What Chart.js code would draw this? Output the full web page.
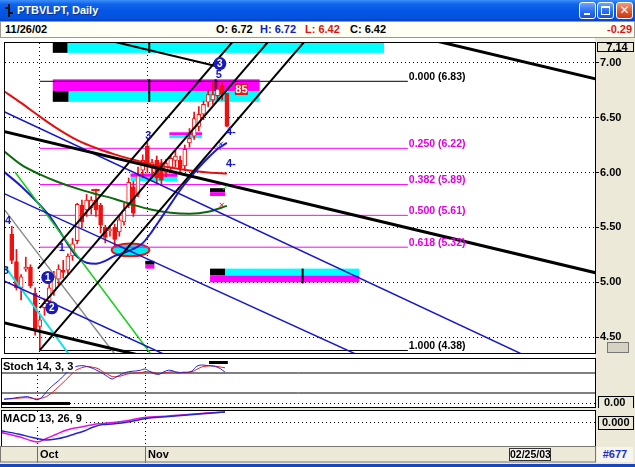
<!DOCTYPE html>
<html>
<head>
<meta charset="utf-8">
<title>PTBVLPT, Daily</title>
<script src="https://cdn.jsdelivr.net/npm/chart.js@4.4.0/dist/chart.umd.min.js"></script>
<style>
  html, body { margin: 0; padding: 0; background: #ece9d8; }
  #win { position: relative; width: 635px; height: 467px; overflow: hidden; background: #ece9d8;
         font-family: "Liberation Sans", Arial, sans-serif; }
  #titlebar { position: absolute; left: 0; top: 0; width: 635px; height: 21px;
              background: linear-gradient(to bottom, #3d8ff9 0%, #0f63eb 20%, #0356e4 55%, #0452dd 85%, #0a40c2 100%); }
  #titlebar .ttl { position: absolute; left: 17px; top: 4px; color: #fff; font-weight: bold; font-size: 11px;
                   text-shadow: 1px 1px 0 #0b2f8c; white-space: nowrap; }
  #icon { position: absolute; left: 5px; top: 4px; width: 8px; height: 13px; }
  #icon i { position: absolute; background: #111; }
  .btn { position: absolute; top: 2px; width: 17px; height: 17px; box-sizing: border-box; border: 1px solid #fff;
         border-radius: 3px; background: linear-gradient(#6aa6ff, #2c6cf2 55%, #1b52d6); }
  #bmin { left: 579px; } #bmax { left: 597px; }
  #bcls { left: 616px; background: linear-gradient(#f29a7c, #e2572f 55%, #c93a19); }
  #bmin i { position: absolute; left: 4px; top: 10px; width: 6px; height: 2px; background: #fff; }
  #bmax i { position: absolute; left: 3px; top: 3px; width: 9px; height: 9px; box-sizing: border-box;
            border: 1px solid #fff; border-top-width: 2px; }
  #bcls b { position: absolute; left: 0; top: 0; width: 15px; line-height: 15px; text-align: center; color: #fff;
            font: bold 12px "DejaVu Sans", sans-serif; }
  #info { position: absolute; left: 0; top: 21px; width: 633px; height: 15px; background: #fffff4;
          border: 1px solid #9c9a90; }
  #info span { position: absolute; top: 1px; font-weight: bold; font-size: 11px; white-space: nowrap; }
  canvas { position: absolute; left: 0; }
  #cursorDate { position: absolute; left: 509px; top: 448px; width: 42px; height: 13px; box-sizing: border-box;
                border: 1px solid #333; background: #f4f2e8; font-size: 10.5px; font-weight: bold;
                line-height: 11px; text-align: center; }
  #barNo { position: absolute; left: 597px; top: 447px; width: 36px; height: 15px; background: #f6f5ee;
           color: #1d2fc4; font-size: 11px; font-weight: bold; line-height: 15px; text-align: center; }
  #frameBottom { position: absolute; left: 0; top: 464px; width: 635px; height: 3px; background: #1646c8; }
</style>
</head>
<body>
<div id="win">
  <div id="titlebar">
    <div id="icon"><i style="left:3px;top:0;width:2px;height:13px"></i><i style="left:0;top:3px;width:3px;height:2px"></i><i style="left:5px;top:8px;width:3px;height:2px"></i></div>
    <div class="ttl">PTBVLPT, Daily</div>
    <div class="btn" id="bmin"><i></i></div>
    <div class="btn" id="bmax"><i></i></div>
    <div class="btn" id="bcls"><b>✕</b></div>
  </div>
  <div id="info">
    <span id="iDate" style="left:4px;color:#000"></span>
    <span id="iO" style="left:215px;color:#000"></span>
    <span id="iH" style="left:259px;color:#1020c8"></span>
    <span id="iL" style="left:304px;color:#e01010"></span>
    <span id="iC" style="left:349px;color:#000"></span>
    <span id="iChg" style="left:606px;color:#e01010"></span>
  </div>
  <canvas id="cMain" width="635" height="320" style="top:38px;background:#fff"></canvas>
  <canvas id="cStoch" width="635" height="50" style="top:358px;background:#fff"></canvas>
  <canvas id="cMacd" width="635" height="53" style="top:410px;background:#fff"></canvas>
  <div id="cursorDate"></div>
  <div id="barNo"></div>
  <div id="frameBottom"></div>
</div>
<script>
// ---------------- time axis (bar index 0 = 1 Oct 2002) ----------------
const firstBar = -6;
const monthTicks = [0, 23];
const monthLabels = ['Oct', 'Nov'];
const xRange = [-7.447, 118.72];
const lastDateLabel = '11/26/02';
const cursorDateLabel = '02/25/03';
const barCountLabel = '#677';

// ---------------- price axis ----------------
const priceRange = [4.357, 7.1786];
const priceTicks = [4.5, 5.0, 5.5, 6.0, 6.5, 7.0];
const priceTopLabel = 7.14;

// ---------------- daily OHLC ----------------
const opens  = [5.44, 5.19, 4.95, 5.12, 5.14, 4.90, 4.60, 4.77, 4.83, 4.92, 5.03, 5.11, 5.11, 5.24, 5.38, 5.70,
                5.66, 5.68, 5.75, 5.70, 5.50, 5.47, 5.50, 5.46, 5.55, 5.70, 5.87, 5.80, 6.02, 6.24, 6.04, 6.11,
                6.09, 6.00, 6.04, 6.11, 6.11, 6.06, 6.27, 6.33, 6.42, 6.53, 6.64, 6.66, 6.70, 6.79, 6.72];
const highs  = [5.51, 5.30, 5.07, 5.23, 5.16, 4.95, 4.70, 4.85, 5.00, 5.10, 5.16, 5.20, 5.26, 5.40, 5.72, 5.75,
                5.80, 5.78, 5.85, 5.72, 5.52, 5.52, 5.53, 5.60, 5.72, 5.95, 5.92, 6.05, 6.16, 6.27, 6.12, 6.15,
                6.12, 6.12, 6.16, 6.20, 6.15, 6.25, 6.40, 6.55, 6.60, 6.65, 6.75, 6.83, 6.82, 6.83, 6.72];
const lows   = [5.17, 4.93, 4.84, 5.10, 4.95, 4.52, 4.38, 4.70, 4.80, 4.88, 4.98, 5.04, 5.08, 5.20, 5.35, 5.50,
                5.60, 5.62, 5.60, 5.45, 5.36, 5.42, 5.33, 5.42, 5.52, 5.68, 5.60, 5.78, 5.95, 6.00, 5.95, 5.90,
                5.88, 5.96, 6.00, 6.05, 6.00, 6.02, 6.23, 6.30, 6.38, 6.48, 6.60, 6.62, 6.65, 6.66, 6.42];
const closes = [5.20, 4.95, 5.05, 5.14, 4.97, 4.56, 4.66, 4.81, 4.95, 5.05, 5.12, 5.09, 5.24, 5.35, 5.71, 5.55,
                5.75, 5.75, 5.66, 5.52, 5.41, 5.48, 5.39, 5.57, 5.66, 5.91, 5.63, 5.97, 6.11, 6.09, 6.09, 5.95,
                5.93, 6.08, 6.13, 6.15, 6.04, 6.21, 6.31, 6.49, 6.53, 6.62, 6.71, 6.71, 6.76, 6.71, 6.42];

// ---------------- Fibonacci retracement ----------------
const fibLevels = [0, 0.25, 0.382, 0.5, 0.618, 1];
const fibPrices = [6.83, 6.22, 5.89, 5.61, 5.32, 4.38];
const fibSpan = [0, 78.7];

// ---------------- moving averages / regression curve ----------------
const maIdx   = [-8, -4, 0, 4, 8, 12, 16, 20, 24, 28, 32, 36, 40];
const redMA   = [6.75, 6.634, 6.509, 6.393, 6.295, 6.223, 6.165, 6.116, 6.071, 6.045, 6.018, 6.0, 5.991];
const greenMA = [6.205, 6.071, 5.982, 5.911, 5.853, 5.804, 5.759, 5.705, 5.661, 5.634, 5.625, 5.643, 5.696];
const curveIdx  = [-8, -4, 0, 2, 4, 6, 8, 10, 12, 14, 16, 18, 20, 22, 24, 26, 28, 30, 32, 34, 36, 38, 40];
const blueCurve = [6.018, 5.875, 5.705, 5.607, 5.482, 5.348, 5.232, 5.179, 5.170, 5.196, 5.241, 5.268, 5.304,
                   5.357, 5.464, 5.589, 5.714, 5.839, 5.946, 6.045, 6.134, 6.214, 6.27];

// ---------------- trend lines: [x1, price1, x2, price2] ----------------
const pitchforkLines = [[-0.4, 5.125, 42, 7.228], [0, 4.768, 50, 7.248], [0, 4.384, 58, 7.261]];
const channelLines   = [[10, 7.25, 38.5, 6.96], [80, 7.245, 119, 6.85], [-8, 6.376, 119, 5.086], [-8, 4.635, 22, 4.33]];
const blueLines      = [[-8, 6.561, 105, 4.309], [-8, 5.815, 70, 4.30], [-8, 5.02, 30, 4.279]];
const fanGreen = [-5.32, 6.005, 24.04, 4.33];
const fanGray  = [-8, 5.686, 16, 4.348];
const fanCyan  = [-7.45, 5.143, 6.17, 4.348];
const topMarkLine = [11.0, 5.84, 12.8, 5.84];

// ---------------- highlight zones: [x1, x2, priceTop, priceBottom, colour] ----------------
const zones = [
  [2.77, 5.96, 7.179, 7.089, '#000000'], [5.96, 73.6, 7.179, 7.089, '#00ffff'],
  [2.77, 47.0, 6.848, 6.741, '#ff00ff'], [2.77, 6.17, 6.741, 6.643, '#000000'], [6.17, 47.0, 6.741, 6.643, '#00ffff'],
  [27.7, 34.7, 6.366, 6.339, '#ff00ff'], [27.7, 34.7, 6.339, 6.313, '#00ffff'],
  [19.4, 29.4, 5.991, 5.960, '#ff00ff'], [19.4, 29.4, 5.960, 5.920, '#00ffff'],
  [36.4, 39.6, 5.857, 5.821, '#000000'], [36.4, 39.6, 5.821, 5.786, '#ff00ff'],
  [22.55, 24.5, 5.196, 5.161, '#000000'], [22.55, 24.5, 5.161, 5.125, '#ff00ff'],
  [36.4, 39.6, 5.125, 5.0625, '#000000'], [39.6, 68.3, 5.125, 5.0625, '#00ffff'], [36.4, 68.3, 5.0625, 5.0, '#ff00ff']
];
const zoneTicks = [[23.4, 7.179, 7.089], [23.4, 6.848, 6.643], [37.6, 6.848, 6.741], [56.2, 5.125, 4.99]];
const zoneEllipse = [19.4, 5.295, 4.04, 0.058];
const targetTag = [41.7, 44.5, 6.81, 6.705, '85'];

// ---------------- wave labels ----------------
const waveCircles = [[1.7, 5.045, '1'], [2.55, 4.768, '2'], [38.5, 6.991, '3']];
const waveTexts = [['4', -6.8, 5.563], ['3', -7.3, 5.107], ['1', 4.7, 5.313], ['3', 23.2, 6.33],
                   ['5', 38.3, 6.884], ['4-', 40.85, 6.366], ['4-', 40.85, 6.08]];
const blueCrosses = [[38.7, 6.26], [38.3, 6.22]];
const redCrosses = [[38.9, 5.705]];
const greenChecks = [[39.6, 5.85]];

// ---------------- Stochastic 14,3,3 ----------------
const stochStart = -7;
const stochK = [10, 11, 12, 14, 15, 16, 12, 8, 14, 28, 40, 50, 60, 72, 84, 90, 93, 93, 90, 86, 80, 74, 66, 60,
                66, 72, 77, 79, 80, 82, 85, 79, 73, 72, 78, 82, 80, 75, 77, 77, 80, 92, 95, 94, 93, 91, 86, 77];
const stochD = [9, 10, 11, 12, 13, 13, 12, 10, 12, 16, 24, 34, 45, 56, 68, 80, 86, 90, 91, 89, 86, 78, 72, 66,
                66, 68, 72, 74, 75, 76, 78, 78, 76, 73, 75, 77, 78, 77, 76, 76, 78, 84, 90, 92, 93, 92, 90, 88];
const stochLevels = [75, 25];
const stochRange = [-10, 110];
const stochMarks = [[-7.45, 7.02, 2.5, -5], [36.6, 40.6, 105, 97.5]];

// ---------------- MACD 13,26,9 ----------------
const macdIdx    = [-8, -4, -1, 0, 2, 4, 6, 8, 10, 12, 14, 16, 18, 20, 22, 24, 28, 32, 36, 40];
const macdLine   = [-0.18, -0.27, -0.36, -0.38, -0.31, -0.23, -0.15, -0.10, -0.07, -0.03, -0.01, 0.01, 0.03,
                    0.06, 0.10, 0.12, 0.14, 0.17, 0.20, 0.22];
const signalLine = [-0.15, -0.22, -0.29, -0.31, -0.34, -0.32, -0.28, -0.22, -0.16, -0.08, -0.03, -0.02, 0.0,
                    0.03, 0.07, 0.10, 0.13, 0.16, 0.19, 0.22];
const macdRange = [-0.46, 0.24];

// =====================================================================
const FONT = "'Liberation Sans', Arial, sans-serif";
Chart.defaults.font.family = FONT;
Chart.defaults.font.size = 11;
Chart.defaults.font.weight = 'bold';
Chart.defaults.color = '#000';

const barX = opens.map((_, i) => firstBar + i);
const last = opens.length - 1;

// header texts come from the last bar
document.getElementById('iDate').textContent = lastDateLabel;
document.getElementById('iO').textContent = 'O: ' + opens[last].toFixed(2);
document.getElementById('iH').textContent = 'H: ' + highs[last].toFixed(2);
document.getElementById('iL').textContent = 'L: ' + lows[last].toFixed(2);
document.getElementById('iC').textContent = 'C: ' + closes[last].toFixed(2);
document.getElementById('iChg').textContent = (closes[last] - closes[last - 1]).toFixed(2);
document.getElementById('cursorDate').textContent = cursorDateLabel;
document.getElementById('barNo').textContent = barCountLabel;

const seg = (s) => [{x: s[0], y: s[1]}, {x: s[2], y: s[3]}];
const lineDs = (data, color, width, order, extra) => Object.assign({
  type: 'line', data, borderColor: color, borderWidth: width, pointRadius: 0, fill: false,
  tension: 0, order, clip: 0, borderCapStyle: 'butt'
}, extra || {});
const curve = (xs, ys) => xs.map((x, i) => ({x, y: ys[i]}));

const sx = (c, v) => c.scales.x.getPixelForValue(v);
const sy = (c, v) => c.scales.y.getPixelForValue(v);
function clipToArea(c) {
  const a = c.chartArea;
  c.ctx.beginPath();
  c.ctx.rect(a.left, a.top, a.right - a.left, a.bottom - a.top);
  c.ctx.clip();
}
// keep the plot area exactly where the layout padding puts it
const noLabelPadding = s => { s.paddingTop = 0; s.paddingBottom = 0; s.paddingLeft = 0; s.paddingRight = 0; };

// panel chrome: grey axis column, frame around the plot area, optional panel caption
const panelFrame = {
  id: 'panelFrame',
  beforeDraw(c, args, o) {
    const {ctx, chartArea: a, width, height} = c;
    ctx.save();
    ctx.fillStyle = '#ece9d8';
    ctx.fillRect(a.right, 0, width - a.right, height);
    if (o.axisBar) ctx.fillRect(0, a.bottom, width, height - a.bottom);
    ctx.restore();
  },
  afterDraw(c, args, o) {
    const {ctx, chartArea: a, width, height} = c;
    ctx.save();
    ctx.strokeStyle = '#000';
    ctx.lineWidth = 1;
    ctx.strokeRect(a.left - 0.5, a.top - 0.5, a.right - a.left + 1, a.bottom - a.top + 1);
    if (o.axisBar) {
      ctx.strokeStyle = '#7a786e';
      ctx.strokeRect(0.5, a.bottom + 0.5, a.right, height - a.bottom - 1.5);
    }
    if (o.caption) {
      ctx.font = 'bold 11px ' + FONT;
      const w = ctx.measureText(o.caption).width;
      ctx.fillStyle = '#fff';
      ctx.fillRect(a.left, a.top + 1, w + 3, 12);
      ctx.fillStyle = '#000';
      ctx.textBaseline = 'middle';
      ctx.fillText(o.caption, a.left + 1, a.top + 8);
    }
    if (o.labelBoxes) {
      ctx.strokeStyle = '#000';
      c.scales.y.ticks.forEach(t => {
        const y = Math.round(sy(c, t.value));
        ctx.strokeRect(a.right + 3.5, y - 6.5, width - a.right - 5, 13);
      });
    }
    ctx.restore();
  }
};

// drawing objects on the price panel
const priceDrawings = {
  id: 'priceDrawings',
  beforeDatasetsDraw(c) {
    const ctx = c.ctx;
    ctx.save();
    clipToArea(c);
    zones.forEach(([x1, x2, p1, p2, col]) => {
      const l = sx(c, x1), r = sx(c, x2), t = sy(c, p1), b = sy(c, p2);
      ctx.fillStyle = col;
      ctx.fillRect(l, t, r - l, b - t);
    });
    ctx.strokeStyle = '#000';
    ctx.lineWidth = 2;
    zoneTicks.forEach(([x, p1, p2]) => {
      ctx.beginPath();
      ctx.moveTo(sx(c, x), sy(c, p1));
      ctx.lineTo(sx(c, x), sy(c, p2));
      ctx.stroke();
    });
    const [ex, ey, erx, ery] = zoneEllipse;
    const cx = sx(c, ex), cy = sy(c, ey);
    const rx = sx(c, ex + erx) - cx, ry = sy(c, ey - ery) - cy;
    ctx.beginPath();
    ctx.ellipse(cx, cy, rx, ry, 0, 0, Math.PI * 2);
    ctx.fillStyle = '#00e8f0';
    ctx.fill();
    ctx.strokeStyle = '#e01818';
    ctx.lineWidth = 2;
    ctx.stroke();
    ctx.restore();
  },
  afterDatasetsDraw(c) {
    const {ctx, chartArea: a, width} = c;
    ctx.save();
    // Fibonacci captions
    ctx.font = 'bold 10.5px ' + FONT;
    ctx.textBaseline = 'bottom';
    fibLevels.forEach((lv, i) => {
      ctx.fillStyle = (lv === 0 || lv === 1) ? '#000' : '#e000e0';
      ctx.fillText(lv.toFixed(3) + ' (' + fibPrices[i].toFixed(2) + ')', sx(c, fibSpan[1]) + 1, sy(c, fibPrices[i]) + 1);
    });
    ctx.save();
    clipToArea(c);
    // price target tag
    const [tx1, tx2, tp1, tp2, ttxt] = targetTag;
    ctx.fillStyle = '#e81818';
    ctx.fillRect(sx(c, tx1), sy(c, tp1), sx(c, tx2) - sx(c, tx1), sy(c, tp2) - sy(c, tp1));
    ctx.fillStyle = '#fff';
    ctx.textAlign = 'center';
    ctx.textBaseline = 'middle';
    ctx.font = 'bold 11px ' + FONT;
    ctx.fillText(ttxt, (sx(c, tx1) + sx(c, tx2)) / 2, (sy(c, tp1) + sy(c, tp2)) / 2 + 0.5);
    // wave count labels
    ctx.fillStyle = '#1414c8';
    waveTexts.forEach(([t, x, p]) => ctx.fillText(t, sx(c, x), sy(c, p)));
    waveCircles.forEach(([x, p, t]) => {
      ctx.beginPath();
      ctx.arc(sx(c, x), sy(c, p), 6.5, 0, Math.PI * 2);
      ctx.fillStyle = '#1a1ab8';
      ctx.fill();
      ctx.fillStyle = '#fff';
      ctx.font = 'bold 10px ' + FONT;
      ctx.fillText(t, sx(c, x), sy(c, p) + 0.5);
    });
    ctx.fillStyle = '#18b018';
    ctx.font = '9px "DejaVu Sans", sans-serif';
    greenChecks.forEach(([x, p]) => ctx.fillText('✓', sx(c, x), sy(c, p)));
    ctx.restore();
    // boxed scale top value
    const yTop = sy(c, priceTopLabel);
    ctx.fillStyle = '#ece9d8';
    ctx.fillRect(a.right + 1, a.top - 1, width - a.right - 2, yTop - a.top + 6);
    ctx.strokeStyle = '#000';
    ctx.lineWidth = 1;
    ctx.strokeRect(a.right + 2.5, a.top - 0.5, width - a.right - 4, Math.round(yTop - a.top + 5));
    ctx.fillStyle = '#000';
    ctx.font = 'bold 11px ' + FONT;
    ctx.textAlign = 'center';
    ctx.textBaseline = 'middle';
    ctx.fillText(priceTopLabel.toFixed(2), (a.right + width) / 2 + 2, yTop + 0.5);
    // small tool icon in the corner of the scale
    ctx.fillStyle = '#d6d2c2';
    ctx.fillRect(a.right + 12, a.bottom - 11, 22, 11);
    ctx.strokeStyle = '#777';
    ctx.strokeRect(a.right + 12.5, a.bottom - 10.5, 21, 10);
    ctx.restore();
  }
};

// ---------------- price panel ----------------
const xAxis = (showLabels) => ({
  type: 'linear', min: xRange[0], max: xRange[1], offset: false,
  afterBuildTicks: s => { s.ticks = monthTicks.map(v => ({value: v})); },
  afterFit: s => { s.height = showLabels ? 17 : 0; noLabelPadding(s); },
  grid: { display: true, drawOnChartArea: true, offset: false, color: '#000', lineWidth: 1,
          drawTicks: showLabels, tickLength: 17, tickColor: '#6e6c64', tickBorderDash: [] },
  border: { display: false, dash: [1, 3] },
  ticks: { display: showLabels, autoSkip: false, maxRotation: 0, align: 'start', labelOffset: 3, padding: -15,
           callback: (v) => monthLabels[monthTicks.indexOf(v)] }
});
const yFit = s => { s.width = 40; noLabelPadding(s); };

const candleBodies = barX.map((x, i) => ({x, y: [Math.min(opens[i], closes[i]), Math.max(opens[i], closes[i])]}));
const candleWicks = barX.map((x, i) => ({x, y: [lows[i], highs[i]]}));

const priceDatasets = [
  { type: 'scatter', data: blueCrosses.map(([x, y]) => ({x, y})), pointStyle: 'crossRot', pointRadius: 3,
    borderColor: '#2828d8', borderWidth: 1, order: 0, clip: 0 },
  { type: 'scatter', data: redCrosses.map(([x, y]) => ({x, y})), pointStyle: 'crossRot', pointRadius: 3,
    borderColor: '#e01818', borderWidth: 1, order: 0, clip: 0 },
  lineDs(seg(topMarkLine), '#f01010', 2, 1),
  ...pitchforkLines.map(s => lineDs(seg(s), '#000', 2, 1)),
  ...channelLines.map((s, i) => lineDs(seg(s), '#000', i === 0 ? 2 : 3, 1)),
  ...blueLines.map(s => lineDs(seg(s), '#1818cc', 1.5, 1)),
  lineDs(seg(fanGreen), '#10d010', 1.5, 1),
  lineDs(seg(fanGray), '#8c8c8c', 1.5, 1),
  lineDs(seg(fanCyan), '#10e0e8', 2, 1),
  lineDs(curve(curveIdx, blueCurve), '#1c1cc8', 2, 2, {cubicInterpolationMode: 'monotone'}),
  lineDs(curve(maIdx, redMA), '#e41010', 2, 2, {cubicInterpolationMode: 'monotone'}),
  lineDs(curve(maIdx, greenMA), '#0a6a0a', 2, 2, {cubicInterpolationMode: 'monotone'}),
  { type: 'bar', data: candleBodies, grouped: false, barThickness: 4, borderWidth: 1, borderSkipped: false,
    borderColor: '#f01010', backgroundColor: barX.map((_, i) => closes[i] >= opens[i] ? '#ffffff' : '#f01010'),
    order: 3 },
  { type: 'bar', data: candleWicks, grouped: false, barThickness: 1, borderWidth: 0,
    backgroundColor: '#f01010', order: 4 },
  ...fibPrices.map((p, i) => lineDs([{x: fibSpan[0], y: p}, {x: fibSpan[1], y: p}],
      (fibLevels[i] === 0 || fibLevels[i] === 1) ? '#000' : '#ff00ff', 1, 5))
];

new Chart(document.getElementById('cMain'), {
  type: 'bar',
  data: { datasets: priceDatasets },
  options: {
    responsive: false, animation: false, events: [],
    layout: { padding: { left: 2, top: 2, right: 0, bottom: 2 } },
    plugins: { legend: { display: false }, tooltip: { enabled: false }, panelFrame: {} },
    scales: {
      x: xAxis(false),
      y: {
        type: 'linear', position: 'right', min: priceRange[0], max: priceRange[1],
        afterBuildTicks: s => { s.ticks = priceTicks.map(v => ({value: v})); },
        afterFit: yFit,
        grid: { color: '#000', lineWidth: 1, drawTicks: true, tickLength: 4, tickColor: '#000', tickBorderDash: [] },
        border: { display: true, color: '#000', width: 1, dash: [1, 3] },
        ticks: { padding: 1, callback: v => v.toFixed(2), font: { size: 11, weight: 'bold' } }
      }
    }
  },
  plugins: [panelFrame, priceDrawings]
});

// ---------------- stochastic panel ----------------
const stochX = stochK.map((_, i) => stochStart + i);
const stochMarksPlugin = {
  id: 'stochMarks',
  afterDatasetsDraw(c) {
    const ctx = c.ctx;
    ctx.save();
    clipToArea(c);
    ctx.fillStyle = '#000';
    stochMarks.forEach(([x1, x2, v1, v2]) => {
      ctx.fillRect(sx(c, x1), sy(c, v1), sx(c, x2) - sx(c, x1), sy(c, v2) - sy(c, v1));
    });
    ctx.restore();
  }
};
new Chart(document.getElementById('cStoch'), {
  type: 'line',
  data: { datasets: [
    lineDs(stochX.map((x, i) => ({x, y: stochK[i]})), '#2020e0', 1, 0, {tension: 0.3}),
    lineDs(stochX.map((x, i) => ({x, y: stochD[i]})), '#e41818', 1, 1, {tension: 0.3}),
    ...stochLevels.map(v => lineDs([{x: xRange[0], y: v}, {x: xRange[1], y: v}], '#000', 1, 2))
  ] },
  options: {
    responsive: false, animation: false, events: [],
    layout: { padding: { left: 2, top: 1, right: 0, bottom: 1 } },
    plugins: { legend: { display: false }, tooltip: { enabled: false },
               panelFrame: { caption: 'Stoch 14, 3, 3', labelBoxes: true } },
    scales: {
      x: xAxis(false),
      y: {
        type: 'linear', position: 'right', min: stochRange[0], max: stochRange[1],
        afterBuildTicks: s => { s.ticks = [{value: 0}]; },
        afterFit: yFit,
        grid: { color: '#000', lineWidth: 1, drawTicks: false },
        border: { display: true, color: '#000', width: 1, dash: [1, 3] },
        ticks: { padding: 9, callback: v => v.toFixed(2) }
      }
    }
  },
  plugins: [panelFrame, stochMarksPlugin]
});

// ---------------- MACD panel with the date scale ----------------
new Chart(document.getElementById('cMacd'), {
  type: 'line',
  data: { datasets: [
    lineDs(curve(macdIdx, signalLine), '#2424d0', 1.5, 0, {cubicInterpolationMode: 'monotone'}),
    lineDs(curve(macdIdx, macdLine), '#e014e0', 1.5, 1, {cubicInterpolationMode: 'monotone'})
  ] },
  options: {
    responsive: false, animation: false, events: [],
    layout: { padding: { left: 2, top: 1, right: 0, bottom: 0 } },
    plugins: { legend: { display: false }, tooltip: { enabled: false },
               panelFrame: { caption: 'MACD 13, 26, 9', labelBoxes: true, axisBar: true } },
    scales: {
      x: xAxis(true),
      y: {
        type: 'linear', position: 'right', min: macdRange[0], max: macdRange[1],
        afterBuildTicks: s => { s.ticks = [{value: 0}]; },
        afterFit: yFit,
        grid: { color: '#000', lineWidth: 1, drawTicks: false },
        border: { display: true, color: '#000', width: 1, dash: [1, 3] },
        ticks: { padding: 7, callback: v => v.toFixed(3) }
      }
    }
  },
  plugins: [panelFrame]
});
</script>
</body>
</html>
